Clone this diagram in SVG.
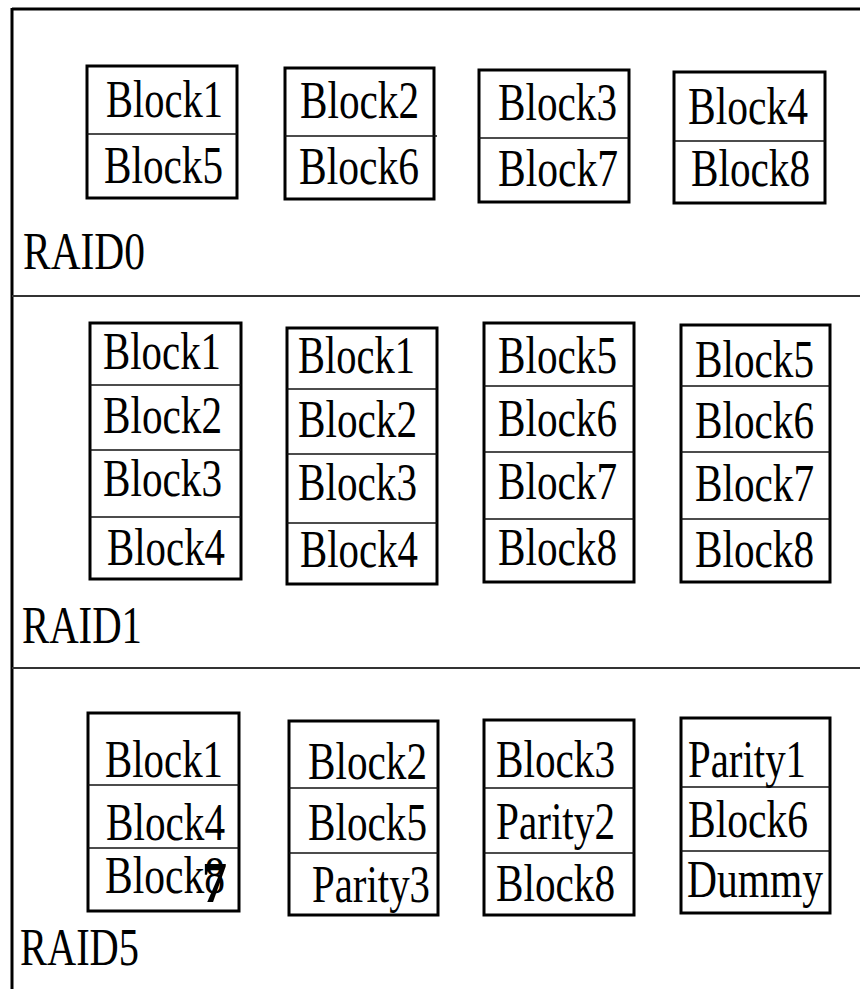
<svg xmlns="http://www.w3.org/2000/svg" width="860" height="989" viewBox="0 0 860 989">
<style>
.box{fill:#fff;stroke:#000;stroke-width:3}
.div{stroke:#111;stroke-width:1.6;fill:none}
.frame{stroke:#000;stroke-width:3;fill:none}
.sep{stroke:#333;stroke-width:2;fill:none}
text{font-family:"Liberation Serif","Times New Roman",serif;font-size:53px;fill:#000}
.lbl{font-size:52px}
.bold7{font-weight:bold;font-size:58px}
</style>
<rect width="860" height="989" fill="#fff"/>
<g id="frame">
<line class="frame" x1="12" y1="9" x2="860" y2="9"/>
<line class="frame" x1="12" y1="8" x2="12" y2="989"/>
<line class="sep" x1="12" y1="296" x2="860" y2="296"/>
<line class="sep" x1="12" y1="668" x2="860" y2="668"/>
</g>
<g id="raid0">
<text class="lbl" x="23" y="269" textLength="122" lengthAdjust="spacingAndGlyphs">RAID0</text>
<g id="r0d1">
<rect class="box" x="87" y="66" width="150" height="132"/>
<line class="div" x1="87" y1="134" x2="237" y2="134"/>
<text x="106" y="117" textLength="117" lengthAdjust="spacingAndGlyphs">Block1</text>
<text x="104" y="183" textLength="119" lengthAdjust="spacingAndGlyphs">Block5</text>
</g>
<g id="r0d2">
<rect class="box" x="285" y="68" width="149" height="131"/>
<line class="div" x1="285" y1="136" x2="437" y2="136"/>
<text x="300" y="118" textLength="119" lengthAdjust="spacingAndGlyphs">Block2</text>
<text x="299" y="184" textLength="120" lengthAdjust="spacingAndGlyphs">Block6</text>
</g>
<g id="r0d3">
<rect class="box" x="479" y="70" width="150" height="132"/>
<line class="div" x1="479" y1="138" x2="629" y2="138"/>
<text x="498" y="120" textLength="119" lengthAdjust="spacingAndGlyphs">Block3</text>
<text x="498" y="186" textLength="120" lengthAdjust="spacingAndGlyphs">Block7</text>
</g>
<g id="r0d4">
<rect class="box" x="674" y="72" width="151" height="131"/>
<line class="div" x1="674" y1="141" x2="825" y2="141"/>
<text x="688" y="124" textLength="120" lengthAdjust="spacingAndGlyphs">Block4</text>
<text x="691" y="186" textLength="119" lengthAdjust="spacingAndGlyphs">Block8</text>
</g>
</g>
<g id="raid1">
<text class="lbl" x="22" y="643" textLength="120" lengthAdjust="spacingAndGlyphs">RAID1</text>
<g id="r1d1">
<rect class="box" x="90" y="323" width="151" height="256"/>
<line class="div" x1="90" y1="385" x2="241" y2="385"/>
<line class="div" x1="90" y1="450" x2="241" y2="450"/>
<line class="div" x1="90" y1="517" x2="241" y2="517"/>
<text x="103" y="369" textLength="118" lengthAdjust="spacingAndGlyphs">Block1</text>
<text x="103" y="433" textLength="119" lengthAdjust="spacingAndGlyphs">Block2</text>
<text x="103" y="496" textLength="119" lengthAdjust="spacingAndGlyphs">Block3</text>
<text x="107" y="565" textLength="118" lengthAdjust="spacingAndGlyphs">Block4</text>
</g>
<g id="r1d2">
<rect class="box" x="287" y="328" width="150" height="256"/>
<line class="div" x1="287" y1="389" x2="437" y2="389"/>
<line class="div" x1="287" y1="454" x2="437" y2="454"/>
<line class="div" x1="287" y1="523" x2="437" y2="523"/>
<text x="298" y="373" textLength="117" lengthAdjust="spacingAndGlyphs">Block1</text>
<text x="298" y="437" textLength="119" lengthAdjust="spacingAndGlyphs">Block2</text>
<text x="298" y="500" textLength="119" lengthAdjust="spacingAndGlyphs">Block3</text>
<text x="300" y="567" textLength="118" lengthAdjust="spacingAndGlyphs">Block4</text>
</g>
<g id="r1d3">
<rect class="box" x="484" y="323" width="150" height="259"/>
<line class="div" x1="484" y1="386" x2="634" y2="386"/>
<line class="div" x1="484" y1="452" x2="634" y2="452"/>
<line class="div" x1="484" y1="519" x2="634" y2="519"/>
<text x="498" y="373" textLength="119" lengthAdjust="spacingAndGlyphs">Block5</text>
<text x="498" y="436" textLength="119" lengthAdjust="spacingAndGlyphs">Block6</text>
<text x="498" y="499" textLength="119" lengthAdjust="spacingAndGlyphs">Block7</text>
<text x="498" y="565" textLength="119" lengthAdjust="spacingAndGlyphs">Block8</text>
</g>
<g id="r1d4">
<rect class="box" x="681" y="325" width="149" height="257"/>
<line class="div" x1="681" y1="386" x2="830" y2="386"/>
<line class="div" x1="681" y1="452" x2="830" y2="452"/>
<line class="div" x1="681" y1="519" x2="830" y2="519"/>
<text x="695" y="377" textLength="119" lengthAdjust="spacingAndGlyphs">Block5</text>
<text x="695" y="438" textLength="119" lengthAdjust="spacingAndGlyphs">Block6</text>
<text x="695" y="501" textLength="119" lengthAdjust="spacingAndGlyphs">Block7</text>
<text x="695" y="567" textLength="119" lengthAdjust="spacingAndGlyphs">Block8</text>
</g>
</g>
<g id="raid5">
<text class="lbl" x="20" y="965" textLength="119" lengthAdjust="spacingAndGlyphs">RAID5</text>
<g id="r5d1">
<rect class="box" x="88" y="713" width="151" height="198"/>
<line class="div" x1="88" y1="785" x2="239" y2="785"/>
<line class="div" x1="88" y1="848" x2="239" y2="848"/>
<text x="105" y="777" textLength="118" lengthAdjust="spacingAndGlyphs">Block1</text>
<text x="106" y="840" textLength="119" lengthAdjust="spacingAndGlyphs">Block4</text>
<text x="105" y="893" textLength="120" lengthAdjust="spacingAndGlyphs">Block8</text>
<text class="bold7" x="202" y="902" textLength="25" lengthAdjust="spacingAndGlyphs">7</text>
</g>
<g id="r5d2">
<rect class="box" x="289" y="721" width="149" height="194"/>
<line class="div" x1="289" y1="788" x2="438" y2="788"/>
<line class="div" x1="289" y1="853" x2="438" y2="853"/>
<text x="308" y="779" textLength="119" lengthAdjust="spacingAndGlyphs">Block2</text>
<text x="308" y="840" textLength="119" lengthAdjust="spacingAndGlyphs">Block5</text>
<text x="312" y="902" textLength="118" lengthAdjust="spacingAndGlyphs">Parity3</text>
</g>
<g id="r5d3">
<rect class="box" x="484" y="720" width="150" height="195"/>
<line class="div" x1="484" y1="788" x2="634" y2="788"/>
<line class="div" x1="484" y1="853" x2="634" y2="853"/>
<text x="496" y="777" textLength="119" lengthAdjust="spacingAndGlyphs">Block3</text>
<text x="496" y="839" textLength="119" lengthAdjust="spacingAndGlyphs">Parity2</text>
<text x="496" y="901" textLength="119" lengthAdjust="spacingAndGlyphs">Block8</text>
</g>
<g id="r5d4">
<rect class="box" x="681" y="718" width="149" height="195"/>
<line class="div" x1="681" y1="787" x2="830" y2="787"/>
<line class="div" x1="681" y1="851" x2="830" y2="851"/>
<text x="688" y="777" textLength="118" lengthAdjust="spacingAndGlyphs">Parity1</text>
<text x="688" y="837" textLength="120" lengthAdjust="spacingAndGlyphs">Block6</text>
<text x="687" y="897" textLength="136" lengthAdjust="spacingAndGlyphs">Dummy</text>
</g>
</g>
</svg>
